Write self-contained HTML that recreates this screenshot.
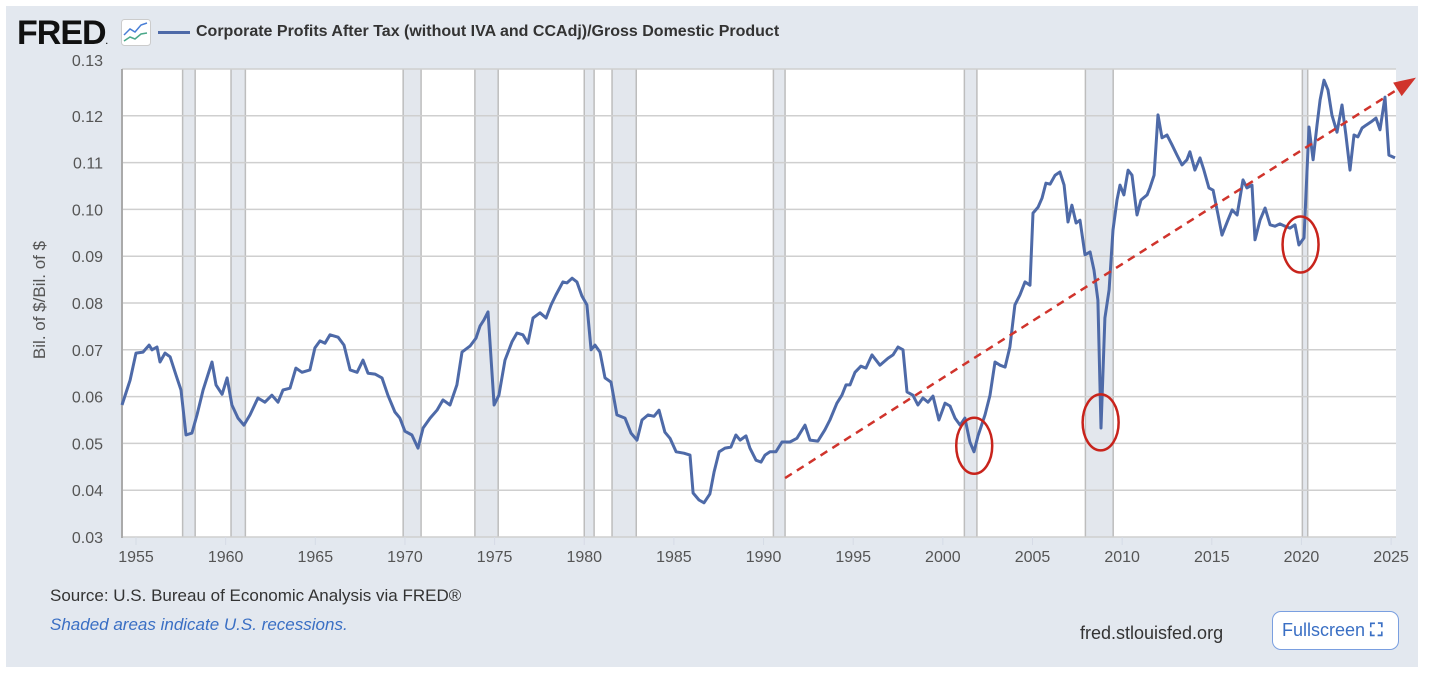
<!DOCTYPE html>
<html><head><meta charset="utf-8"><style>
body{margin:0;width:1430px;height:673px;background:#fff;font-family:"Liberation Sans",sans-serif;overflow:hidden}
#panel{position:absolute;left:6px;top:6px;width:1412px;height:661px;background:#e3e8ef}
.t{position:absolute;white-space:nowrap}
</style></head><body>
<div id="panel"></div>
<div class="t" style="left:17px;top:14px;font-size:34px;font-weight:bold;letter-spacing:-1px;color:#111">FRED<span style="font-size:8px">.</span></div>
<svg class="t" style="left:121px;top:19px" width="30" height="27"><rect x="0.5" y="0.5" width="29" height="26" rx="3" fill="#fff" stroke="#ccc"/><polyline points="3,16 9,10 14,13 20,6 26,4" fill="none" stroke="#4a7fd6" stroke-width="1.5"/><polyline points="3,22 9,18 14,20 20,15 26,14" fill="none" stroke="#4aa88a" stroke-width="1.5"/></svg>
<div class="t" style="left:158px;top:31px;width:32px;height:3px;background:#4e6aa8"></div>
<div class="t" style="left:196px;top:23px;font-size:16px;font-weight:bold;color:#333">Corporate Profits After Tax (without IVA and CCAdj)/Gross Domestic Product</div>
<div class="t" style="left:40px;top:300px;font-size:17px;color:#555;transform:translate(-50%,-50%) rotate(-90deg)">Bil. of $/Bil. of $</div>
<svg id="chart" class="t" style="left:0;top:0" width="1430" height="673"></svg>
<div class="t" style="left:50px;top:586px;font-size:17px;color:#333">Source: U.S. Bureau of Economic Analysis via FRED®</div>
<div class="t" style="left:50px;top:615px;font-size:17px;font-style:italic;color:#3a6fc4">Shaded areas indicate U.S. recessions.</div>
<div class="t" style="left:1080px;top:623px;font-size:18px;color:#333">fred.stlouisfed.org</div>
<div class="t" style="left:1272px;top:611px;width:127px;height:39px;border:1.5px solid #7a9fe0;border-radius:9px;background:#fff;box-sizing:border-box;font-size:18px;color:#3a6fc4;line-height:36px;padding-left:9px">Fullscreen <span style="font-weight:bold">⛶</span></div>
<script>
const years=[1954.22,1954.67,1955.00,1955.39,1955.73,1955.89,1956.17,1956.34,1956.62,1956.90,1957.23,1957.51,1957.79,1958.12,1958.40,1958.74,1959.24,1959.46,1959.80,1960.08,1960.35,1960.69,1961.02,1961.36,1961.80,1962.19,1962.58,1962.92,1963.20,1963.59,1963.92,1964.26,1964.70,1964.98,1965.26,1965.54,1965.82,1966.27,1966.60,1966.94,1967.33,1967.66,1967.94,1968.33,1968.72,1969.05,1969.44,1969.72,1970.00,1970.39,1970.73,1971.01,1971.40,1971.79,1972.12,1972.51,1972.90,1973.18,1973.63,1973.96,1974.19,1974.41,1974.63,1974.97,1975.24,1975.58,1975.97,1976.25,1976.58,1976.86,1977.14,1977.53,1977.87,1978.15,1978.42,1978.81,1979.04,1979.32,1979.59,1979.87,1980.15,1980.38,1980.60,1980.88,1981.16,1981.49,1981.82,1982.27,1982.61,1982.94,1983.22,1983.56,1983.89,1984.17,1984.50,1984.78,1985.12,1985.56,1985.90,1986.07,1986.40,1986.68,1987.01,1987.24,1987.52,1987.85,1988.18,1988.46,1988.69,1989.02,1989.24,1989.58,1989.86,1990.08,1990.36,1990.69,1991.03,1991.47,1991.86,1992.31,1992.59,1993.03,1993.42,1993.70,1994.09,1994.37,1994.60,1994.82,1995.10,1995.43,1995.71,1996.05,1996.49,1996.94,1997.22,1997.50,1997.78,1998.00,1998.33,1998.61,1998.89,1999.17,1999.45,1999.78,2000.12,2000.40,2000.68,2000.96,2001.23,2001.51,2001.74,2001.96,2002.35,2002.63,2002.91,2003.19,2003.47,2003.74,2004.02,2004.30,2004.58,2004.86,2005.03,2005.31,2005.53,2005.75,2005.98,2006.26,2006.53,2006.76,2006.98,2007.20,2007.43,2007.65,2007.93,2008.21,2008.43,2008.65,2008.82,2009.04,2009.27,2009.49,2009.71,2009.88,2010.10,2010.33,2010.55,2010.83,2011.05,2011.39,2011.55,2011.78,2012.00,2012.22,2012.50,2012.78,2013.06,2013.34,2013.61,2013.78,2014.06,2014.34,2014.56,2014.84,2015.07,2015.35,2015.57,2015.90,2016.13,2016.41,2016.74,2016.96,2017.24,2017.41,2017.69,2017.97,2018.25,2018.52,2018.80,2019.08,2019.36,2019.64,2019.86,2020.14,2020.42,2020.65,2020.87,2021.04,2021.26,2021.48,2021.70,2021.98,2022.26,2022.48,2022.71,2022.93,2023.15,2023.38,2023.60,2023.88,2024.16,2024.38,2024.66,2024.88,2025.22];
const values=[0.0582,0.0635,0.0693,0.0695,0.0710,0.0700,0.0706,0.0674,0.0693,0.0685,0.0646,0.0614,0.0518,0.0522,0.0561,0.0614,0.0674,0.0625,0.0605,0.0640,0.0582,0.0554,0.0539,0.0561,0.0597,0.0588,0.0603,0.0588,0.0614,0.0618,0.0661,0.0652,0.0657,0.0704,0.0719,0.0714,0.0732,0.0727,0.0710,0.0657,0.0652,0.0678,0.0650,0.0648,0.0640,0.0603,0.0567,0.0554,0.0526,0.0518,0.0490,0.0533,0.0554,0.0571,0.0593,0.0582,0.0625,0.0695,0.0708,0.0725,0.0751,0.0764,0.0781,0.0582,0.0603,0.0678,0.0717,0.0736,0.0732,0.0714,0.0768,0.0779,0.0768,0.0796,0.0817,0.0845,0.0843,0.0853,0.0845,0.0815,0.0796,0.0700,0.0710,0.0695,0.0640,0.0631,0.0561,0.0554,0.0522,0.0507,0.0550,0.0561,0.0558,0.0571,0.0524,0.0511,0.0482,0.0479,0.0475,0.0394,0.0379,0.0373,0.0392,0.0439,0.0482,0.0490,0.0492,0.0518,0.0507,0.0516,0.0490,0.0464,0.0460,0.0475,0.0482,0.0482,0.0503,0.0503,0.0511,0.0539,0.0507,0.0505,0.0529,0.0550,0.0586,0.0603,0.0625,0.0625,0.0652,0.0665,0.0661,0.0689,0.0667,0.0682,0.0689,0.0706,0.0700,0.0610,0.0603,0.0582,0.0597,0.0588,0.0601,0.0550,0.0586,0.0580,0.0554,0.0539,0.0554,0.0503,0.0482,0.0516,0.0561,0.0603,0.0674,0.0667,0.0663,0.0706,0.0796,0.0817,0.0845,0.0838,0.0992,0.1005,0.1024,0.1056,0.1054,0.1073,0.1080,0.1052,0.0973,0.1009,0.0971,0.0977,0.0903,0.0909,0.0870,0.0806,0.0533,0.0768,0.0828,0.0956,0.1020,0.1052,0.1031,0.1084,0.1073,0.0988,0.1020,0.1031,0.1046,0.1073,0.1202,0.1153,0.1159,0.1138,0.1116,0.1095,0.1106,0.1123,0.1084,0.1110,0.1084,0.1046,0.1041,0.0988,0.0945,0.0977,0.0999,0.0988,0.1063,0.1046,0.1052,0.0935,0.0977,0.1003,0.0967,0.0964,0.0969,0.0964,0.0960,0.0967,0.0924,0.0939,0.1176,0.1106,0.1180,0.1234,0.1276,0.1255,0.1202,0.1165,0.1223,0.1159,0.1084,0.1159,0.1155,0.1174,0.1180,0.1187,0.1195,0.1170,0.1240,0.1116,0.1110];
const recStart=[1957.6,1960.3,1969.9,1973.9,1980.0,1981.55,1990.55,2001.2,2007.95,2020.05];
const recEnd=[1958.3,1961.1,1970.9,1975.2,1980.55,1982.9,1991.2,2001.9,2009.5,2020.35];
const yTicks=[0.03,0.04,0.05,0.06,0.07,0.08,0.09,0.10,0.11,0.12,0.13];
const yTickLabels=["0.03","0.04","0.05","0.06","0.07","0.08","0.09","0.10","0.11","0.12","0.13"];
const xTicks=[1955,1960,1965,1970,1975,1980,1985,1990,1995,2000,2005,2010,2015,2020,2025];
const trendYears=[1991.2,2026.2];
const trendValues=[0.0426,0.1277];
const circleYears=[2001.75,2008.8,2019.95];
const circleValues=[0.0495,0.0545,0.0925];

const L=122,R=1396,T=69,B=537;
const X=y=>136+(y-1955)*17.93;
const Y=v=>T+(0.13-v)/0.10*(B-T);
const svg=document.getElementById('chart');
const NS='http://www.w3.org/2000/svg';
function mk(tag,attrs){const e=document.createElementNS(NS,tag);for(const k in attrs)e.setAttribute(k,attrs[k]);svg.appendChild(e);return e;}
let e=mk('rect',{x:L,y:T,width:R-L,height:B-T,fill:'#fff'});


recStart.forEach((s,i)=>{
  const r=mk('rect',{x:X(s),y:T,width:X(recEnd[i])-X(s),height:B-T,fill:'#e3e7ed'});
  
  
  [s,recEnd[i]].forEach(v=>{const l=mk('line',{x1:X(v),x2:X(v),y1:T,y2:B,stroke:'#bdbdbd','stroke-width':1.5});
  
  });
});
yTicks.forEach((v,i)=>{
  const g=mk('line',{x1:L,x2:R,y1:Y(v),y2:Y(v),stroke:'#cfcfcf','stroke-width':1.5});
  
  
  const t=mk('text',{x:103,y:i==10?Y(v)-3:Y(v)+6,'text-anchor':'end','font-size':'16','fill':'#555','font-family':'Liberation Sans, sans-serif'});
  t.textContent=yTickLabels[i];
  
  
});
e=mk('line',{x1:L,x2:L,y1:T,y2:B+1,stroke:'#aaa','stroke-width':2});


xTicks.forEach(v=>{
  const k=mk('line',{x1:X(v),x2:X(v),y1:B,y2:B+8,stroke:'#d6dbe6','stroke-width':1});
  
  
  const t=mk('text',{x:X(v),y:B+25,'text-anchor':'middle','font-size':'16','fill':'#555','font-family':'Liberation Sans, sans-serif'});
  t.textContent=v;
  
  
});
e=mk('polyline',{points:years.map((y,i)=>X(y).toFixed(1)+','+Y(values[i]).toFixed(1)).join(' '),fill:'none',stroke:'#4e6aa8','stroke-width':3,'stroke-linejoin':'round'});


e=mk('line',{x1:X(trendYears[0]),y1:Y(trendValues[0]),x2:X(trendYears[1]),y2:Y(trendValues[1]),stroke:'#d0342c','stroke-width':2.5,'stroke-dasharray':'8,6'});


{const x2=X(trendYears[1]),y2=Y(trendValues[1]),x1=X(trendYears[0]),y1=Y(trendValues[0]);
 const a=Math.atan2(y2-y1,x2-x1),s=18;
 const p=[[x2+4*Math.cos(a),y2+4*Math.sin(a)],[x2-s*Math.cos(a)+8*Math.sin(a),y2-s*Math.sin(a)-8*Math.cos(a)],[x2-s*Math.cos(a)-8*Math.sin(a),y2-s*Math.sin(a)+8*Math.cos(a)]];
 e=mk('polygon',{points:p.map(q=>q.join(',')).join(' '),fill:'#d0342c'});
 
 }
circleYears.forEach((y,i)=>{
  const c=mk('ellipse',{cx:X(y),cy:Y(circleValues[i]),rx:18,ry:28,fill:'none',stroke:'#c8241c','stroke-width':2.5});
  
  
});
</script>
</body></html>
